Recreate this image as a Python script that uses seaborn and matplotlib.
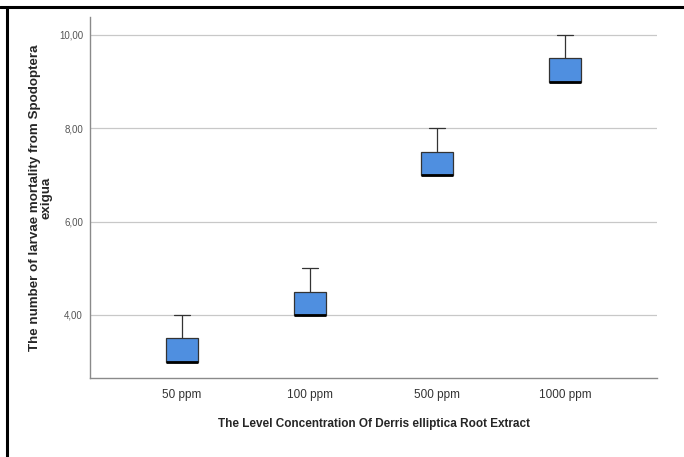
import matplotlib
matplotlib.use("Agg")
import matplotlib.pyplot as plt
import seaborn as sns
import pandas as pd
from matplotlib.lines import Line2D
from matplotlib.ticker import FuncFormatter

# larvae mortality per replicate
concentrations = ["50 ppm", "100 ppm", "500 ppm", "1000 ppm"]
mort_50 = [3, 3, 4]
mort_100 = [4, 4, 5]
mort_500 = [7, 7, 8]
mort_1000 = [9, 9, 10]

rows = []
for conc, vals in zip(concentrations, [mort_50, mort_100, mort_500, mort_1000]):
    for v in vals:
        rows.append({"conc": conc, "mortality": v})
df = pd.DataFrame(rows)

sns.set_style("white")
plt.rcParams['font.family'] = ['Liberation Sans', 'DejaVu Sans']

fig = plt.figure(figsize=(6.84, 4.57), dpi=100)
ax = fig.add_axes([90/684, 1 - 378/457, (657-90)/684, (378-17)/457])

sns.boxplot(data=df, x="conc", y="mortality", order=concentrations, ax=ax,
            color="#4F8FE0", saturation=1, width=0.25, whis=1.5,
            linewidth=0.9, linecolor="#333333",
            medianprops=dict(color="black", linewidth=2),
            showfliers=False)

ax.set_ylim(2.65, 10.385)
ax.set_xlim(-0.72, 3.72)
ax.set_yticks([4, 6, 8, 10])
ax.yaxis.set_major_formatter(FuncFormatter(lambda v, p: f"{v:.2f}".replace(".", ",")))
ax.grid(axis="y", color="#c8c8c8", linewidth=0.9)
ax.set_axisbelow(True)

for s in ["top", "right"]:
    ax.spines[s].set_visible(False)
for s in ["left", "bottom"]:
    ax.spines[s].set_color("#8a8a8a")
    ax.spines[s].set_linewidth(1.0)

ax.tick_params(axis="y", length=0, labelsize=7, labelcolor="#555555", pad=5)
ax.tick_params(axis="x", length=0, labelsize=8.5, labelcolor="#333333", pad=8)

ax.set_xlabel("The Level Concentration Of Derris elliptica Root Extract",
              fontsize=8.5, fontweight="bold", labelpad=12)
ax.set_ylabel("The number of larvae mortality from Spodoptera\nexigua",
              fontsize=9.6, fontweight="bold", linespacing=0.95)
ax.yaxis.set_label_coords(-0.066, 0.5)

# black frame at top and left of the picture
fig.add_artist(Line2D([0, 1], [1 - 7/457, 1 - 7/457], color="black", linewidth=2.2,
                      transform=fig.transFigure))
fig.add_artist(Line2D([7/684, 7/684], [0, 1 - 7/457], color="black", linewidth=2.2,
                      transform=fig.transFigure))

fig.savefig("out.png", dpi=100)
